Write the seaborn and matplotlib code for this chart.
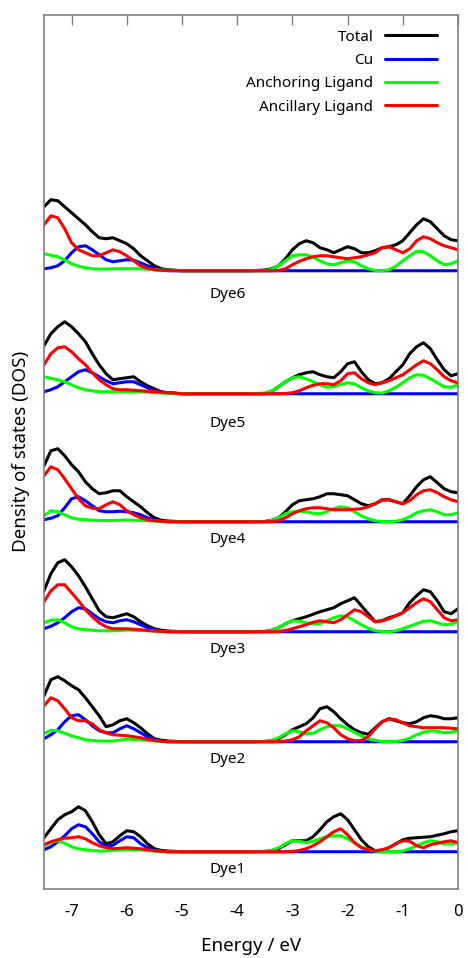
import pandas as pd
import matplotlib
matplotlib.use("Agg")
import matplotlib.pyplot as plt
import seaborn as sns

# === Data (DOS in arb. units) ===
energy = [-7.5, -7.375, -7.25, -7.125, -7.0, -6.875, -6.75, -6.625, -6.5, -6.375,
          -6.25, -6.125, -6.0, -5.875, -5.75, -5.625, -5.5, -5.375, -5.25,
          -5.0, -4.5, -4.0, -3.75,
          -3.5, -3.375, -3.25, -3.125, -3.0, -2.875, -2.75, -2.625, -2.5, -2.375,
          -2.25, -2.125, -2.0, -1.875, -1.75, -1.625, -1.5, -1.375, -1.25, -1.125,
          -1.0, -0.875, -0.75, -0.625, -0.5, -0.375, -0.25, -0.125, 0.0]

dyes = ["Dye1", "Dye2", "Dye3", "Dye4", "Dye5", "Dye6"]
offsets = [37, 147, 257, 367, 495, 618]

total = {
    "Dye1": [14, 23, 32, 37, 40, 45, 41, 30, 17, 8, 10, 16, 21, 20, 15, 8, 3, 1.3, 0.7,
             0, 0, 0, 0,
             0.3, 1, 3, 7, 11, 11, 11, 15, 22, 30, 35, 38, 32, 22, 12,
             5, 1, 1.5, 4, 8, 12, 13.5, 14, 14.5, 15, 16.5, 18, 20, 21],
    "Dye2": [46, 62, 65, 61, 56, 52, 44, 35, 26, 15, 17, 21, 23, 19, 14, 8, 3, 1.5, 0.7,
             0, 0, 0, 0,
             0.3, 1, 3, 7, 12, 15, 18, 24, 33, 35, 30, 23, 17, 12, 9,
             7.5, 14, 20, 23, 21, 19, 18, 20, 24, 26, 25, 23, 23, 24],
    "Dye3": [41, 58, 69, 72, 65, 56, 45, 33, 21, 15, 14, 16, 18, 15, 10, 6, 3, 1.5, 0.7,
             0, 0, 0, 0,
             0.3, 1.5, 4, 8, 11, 13, 15, 17.5, 20, 22, 24, 28, 31, 34, 26,
             18, 10, 11, 14, 16, 19, 29, 36, 42, 40, 31, 20, 18, 23],
    "Dye4": [56, 71, 73, 66, 57, 50, 40, 33, 28, 29, 31, 31, 25, 20, 15, 9, 4, 1.5, 0.7,
             0, 0, 0, 0,
             0.3, 1.5, 4, 10, 17, 21, 22, 23, 25, 28, 28, 27, 26, 22, 18,
             16, 18, 22, 22, 20, 18, 26, 35, 42, 45, 39, 33, 30, 29],
    "Dye5": [48, 60, 67, 72, 67, 60, 52, 40, 29, 20, 14, 15, 16, 17, 12, 8, 5, 2, 1,
             0, 0, 0, 0,
             0, 2.5, 7, 12, 16, 19, 21, 22, 19, 17, 16, 22, 30, 32, 22,
             14, 10, 11, 15, 22, 29, 40, 47, 51, 45, 34, 24, 18, 20],
    "Dye6": [64, 71, 70, 64, 58, 52, 46, 39, 33, 32, 33, 30, 27, 22, 15, 10, 5, 2, 1,
             0, 0, 0, 0,
             0.7, 2, 5, 12, 21, 27, 30, 28, 23, 21, 18, 21, 24, 22, 18,
             18, 20, 23, 24, 26, 30, 38, 46, 52, 49, 42, 35, 31, 30],
}

cu = {
    "Dye1": [2, 5, 10, 16, 23, 27, 25, 18, 10, 5.5, 6.5, 11, 15, 14, 8, 4, 1.3, 0.5, 0,
             0, 0, 0, 0,
             0, 0, 0, 0, 0, 0, 0, 0, 0, 0, 0, 0, 0, 0, 0,
             0, 0, 0, 0, 0, 0, 0, 0, 0, 0, 0, 0, 0, 0],
    "Dye2": [3, 7, 12, 20, 26, 27, 22, 16, 11, 9, 9, 13, 16, 13, 9, 5, 2, 0.7, 0,
             0, 0, 0, 0,
             0, 0, 0, 0, 0, 0, 0, 0, 0, 0, 0, 0, 0, 0, 0,
             0, 0, 0, 0, 0, 0, 0, 0, 0, 0, 0, 0, 0, 0],
    "Dye3": [3, 5.5, 9, 14, 20, 24, 23, 18, 13, 10, 9, 11, 12, 10, 7, 4, 2, 0.7, 0,
             0, 0, 0, 0,
             0, 0, 0, 0, 0, 0, 0, 0, 0, 0, 0, 0, 0, 0, 0,
             0, 0, 0, 0, 0, 0, 0, 0, 0, 0, 0, 0, 0, 0],
    "Dye4": [2, 3.5, 6, 14, 23, 25, 21, 16, 11, 10, 10, 10.5, 10, 9, 7, 4, 2, 0.7, 0,
             0, 0, 0, 0,
             0, 0, 0, 0, 0, 0, 0, 0, 0, 0, 0, 0, 0, 0, 0,
             0, 0, 0, 0, 0, 0, 0, 0, 0, 0, 0, 0, 0, 0],
    "Dye5": [2, 4, 7, 12, 17, 22, 24, 21, 17, 13, 10, 11, 12, 12, 9, 6, 3, 1.5, 1,
             0, 0, 0, 0,
             0, 0, 0, 0, 0, 0, 0, 0, 0, 0, 0, 0, 0, 0, 0,
             0, 0, 0, 0, 0, 0, 0, 0, 0, 0, 0, 0, 0, 0],
    "Dye6": [2, 3, 5, 10, 18, 24, 25, 21, 16, 11, 9, 10, 11, 10.5, 8, 5, 3, 1, 0,
             0, 0, 0, 0,
             0, 0, 0, 0, 0, 0, 0, 0, 0, 0, 0, 0, 0, 0, 0,
             0, 0, 0, 0, 0, 0, 0, 0, 0, 0, 0, 0, 0, 0],
}

anchoring = {
    "Dye1": [6, 9, 11, 8.5, 5, 3, 2, 1.3, 0.7, 0.8, 1.3, 1.8, 2.3, 2, 1.7, 1.2, 0.7, 0.3, 0,
             0, 0, 0, 0,
             0, 1.5, 4, 8, 11, 10.5, 9, 10.5, 13, 15, 16, 16, 13, 9, 5,
             2, 0.7, 0.2, 0, 0.2, 0.7, 3, 6, 9, 11, 10, 8, 8, 9],
    "Dye2": [8, 11.5, 11, 8.5, 6, 4, 2, 1.3, 0.7, 0.7, 0.7, 1.5, 2.7, 2.3, 1.7, 1.2, 0.7, 0.3, 0,
             0, 0, 0, 0,
             0.3, 1.5, 4, 8, 11, 10, 8, 8.5, 12, 15, 16, 16, 13, 9.5, 6,
             3, 1.3, 0.3, 0, 0.3, 1.3, 3.5, 7, 9.5, 11, 10.5, 9, 9.5, 11],
    "Dye3": [9, 11.5, 12, 9, 5, 3, 2, 1.5, 1, 1, 1, 1.3, 1.7, 1.5, 1.3, 1, 0.7, 0.3, 0,
             0, 0, 0, 0,
             0, 1.5, 4, 8, 11, 10.5, 9, 8, 8, 11, 14, 16, 15, 11, 7,
             3.5, 1, 0.3, 0, 1, 3, 5.5, 8, 10.5, 11, 9, 7, 7.5, 10],
    "Dye4": [6, 11, 10, 7, 4, 2.5, 2, 1.5, 1.3, 1.3, 1.3, 1.5, 1.7, 1.5, 1.3, 1, 0.7, 0.3, 0,
             0, 0, 0, 0,
             0, 1.5, 4, 8, 10, 10.5, 10, 8.5, 8, 10, 13, 15, 14, 10, 6,
             3, 1, 0.3, 0, 0.5, 2, 5, 9, 11, 12, 10, 7, 7, 9],
    "Dye5": [17, 15.5, 14, 12, 9, 6, 4, 3, 2, 2, 2, 2, 2, 2, 2, 1.5, 1, 0.7, 0.3,
             0, 0, 0, 0,
             0.7, 3, 7, 12, 16, 17, 15, 12, 9, 6.5, 7, 9.5, 11, 10, 6,
             3, 1, 0.7, 3, 6.5, 11, 16, 19, 18.5, 15, 11, 7, 6.5, 9],
    "Dye6": [17, 15.5, 14, 11, 7, 4.5, 3, 2, 1.7, 1.7, 2, 2, 2, 2, 2, 1.5, 1, 0.7, 0.5,
             0, 0, 0, 0,
             0, 1.5, 5, 10, 15, 16, 16, 13.5, 10, 7, 6, 8, 10, 9, 5,
             2, 0.3, 0, 1, 4.5, 10, 15, 19.5, 19, 15, 10, 6, 7, 10],
}

ancillary = {
    "Dye1": [7, 10, 12, 13.5, 14, 15, 13, 9, 6, 4, 3, 3.5, 4, 3.5, 3, 2, 1, 0.5, 0,
             0, 0, 0, 0,
             0, 0, 0, 0, 0.3, 1.3, 3, 6, 10, 15, 20, 23, 17, 9, 4,
             2, 1, 2, 4, 8, 11, 10.5, 6, 4, 7, 8.5, 10, 11, 9],
    "Dye2": [36, 44, 41, 33, 24, 21, 21, 18, 12, 9, 7, 6.5, 6, 5, 4, 2.5, 1.3, 0.5, 0,
             0, 0, 0, 0,
             0, 0, 0.3, 0.7, 2, 5, 11, 16, 21, 19, 14, 7, 3, 1, 1.3,
             5, 13, 20, 23, 22, 19, 16, 15, 14, 14, 14, 14, 13.5, 13],
    "Dye3": [30, 41, 47, 47, 39, 31, 22, 15, 9, 5, 3, 3, 3, 2.5, 2, 1.3, 0.7, 0.3, 0,
             0, 0, 0, 0,
             0, 0, 0.3, 1.3, 3, 5, 7, 9.5, 11, 10, 9, 12, 17, 22, 20,
             15, 10, 11, 13, 16, 19, 24, 29, 33, 30, 22, 14, 11, 12],
    "Dye4": [46, 55, 52, 43, 33, 23, 16, 13.5, 13, 17, 20, 17, 11, 7, 4, 2, 1, 0.5, 0,
             0, 0, 0, 0,
             0, 0.3, 1, 4, 8, 11, 13, 14, 14, 13, 12, 12, 12, 12.5, 13,
             15, 18, 21.5, 22, 20, 18, 21, 27, 31, 32, 29, 25, 22, 20],
    "Dye5": [29, 40, 46, 47, 42, 35, 29, 21, 14, 9, 5, 4, 4, 3.5, 3, 2.5, 2, 1.5, 1,
             0, 0, 0, 0,
             0, 0, 0, 0.3, 1, 3, 6, 8.5, 10, 10, 9, 13, 20, 21, 15,
             11, 9, 11, 13, 16, 19, 24, 29, 33, 30, 24, 17, 13, 11],
    "Dye6": [46, 55, 53, 42, 28, 21, 18, 15, 15, 18, 21, 19, 15, 10, 5, 2.5, 1, 0.5, 0.3,
             0, 0, 0, 0,
             0, 0, 0.3, 2, 6, 9.5, 12, 14, 15, 15, 14, 13, 12, 13, 14,
             16, 18, 23, 24, 21, 18, 22, 30, 34, 32, 28, 25, 23, 21],
}

components = ["Total", "Cu", "Anchoring Ligand", "Ancillary Ligand"]
series = [total, cu, anchoring, ancillary]
colors = ["#000000", "#0000ff", "#00ff00", "#ff0000"]

# === Build long table ===
rows = []
for comp, data in zip(components, series):
    for dye, off in zip(dyes, offsets):
        for e, v in zip(energy, data[dye]):
            rows.append({"energy": e, "dos": v + off, "component": comp, "dye": dye})
df = pd.DataFrame(rows)

# === Style ===
sns.set_style("white")
plt.rcParams["font.family"] = ["Noto Sans", "DejaVu Sans"]
plt.rcParams["text.color"] = "black"
plt.rcParams["axes.labelcolor"] = "black"
plt.rcParams["xtick.labelcolor"] = "black"

fig = plt.figure(figsize=(4.68, 9.58), dpi=100)
ax = fig.add_axes([0.094, 0.0723, 0.8846, 0.9123])

# === Plot curves (Total first, Ancillary last so red sits on top) ===
for comp, col in zip(components, colors):
    sub = df[df["component"] == comp]
    for i, dye in enumerate(dyes):
        sns.lineplot(data=sub[sub["dye"] == dye], x="energy", y="dos",
                     color=col, lw=2.2, ax=ax, solid_joinstyle="round",
                     label=comp if i == 0 else None, legend=False)

# dye labels under each block
label_y = [19, 129, 239, 349, 465, 594]
for dye, ly in zip(dyes, label_y):
    ax.text(-4.17, ly, dye, ha="center", va="center", fontsize=11, color="black")

ax.set_xlim(-7.5, 0)
ax.set_ylim(0, 874)
ax.set_xticks([-7, -6, -5, -4, -3, -2, -1, 0])
ax.set_xticklabels(["-7", "-6", "-5", "-4", "-3", "-2", "-1", "0"])
ax.set_yticks([])
ax.tick_params(axis="x", direction="in", top=True, length=7, width=1,
               color="#808080", labelcolor="black", labelsize=12, pad=11)
for sp in ax.spines.values():
    sp.set_color("#808080")
    sp.set_linewidth(1.2)

ax.set_xlabel("Energy / eV", fontsize=13.5, labelpad=12)
ax.set_ylabel("Density of states (DOS)", fontsize=13.5, labelpad=10)

leg = ax.legend(loc="upper right", bbox_to_anchor=(0.9486, 0.983), frameon=False,
                markerfirst=False, fontsize=11, handlelength=3.4, handletextpad=0.75,
                labelspacing=0.55, borderpad=0, borderaxespad=0)
for t in leg.get_texts():
    t.set_color("black")

plt.savefig("out.png", dpi=100)
